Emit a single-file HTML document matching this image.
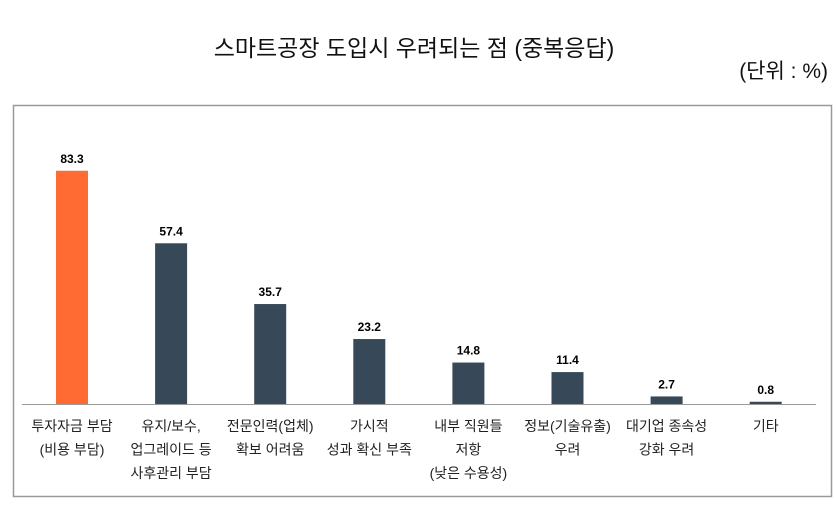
<!DOCTYPE html>
<html><head><meta charset="utf-8"><style>
body{margin:0;background:#fff;width:836px;height:502px;overflow:hidden;font-family:"Liberation Sans","Noto Sans CJK KR",sans-serif}
</style></head><body>
<svg width="836" height="502" style="font-family:'Liberation Sans','Noto Sans CJK KR',sans-serif">
<text x="414" y="56" text-anchor="middle" font-size="23" fill="#111">스마트공장  도입시  우려되는  점  (중복응답)</text>
<text x="828" y="78" text-anchor="end" font-size="21" fill="#111">(단위 : %)</text>
<rect x="13.5" y="105.5" width="818" height="391" fill="none" stroke="#999" stroke-width="1.5"/>
<line x1="22" y1="404.5" x2="816" y2="404.5" stroke="#999"/>
<g id="bars"></g>
</svg>
<script>
const categories=[["투자자금 부담","(비용 부담)"],["유지/보수,","업그레이드 등","사후관리 부담"],["전문인력(업체)","확보 어려움"],["가시적","성과 확신 부족"],["내부 직원들","저항","(낮은 수용성)"],["정보(기술유출)","우려"],["대기업 종속성","강화 우려"],["기타"]];
const values=[83.3,57.4,35.7,23.2,14.8,11.4,2.7,0.8];
const labels=["83.3","57.4","35.7","23.2","14.8","11.4","2.7","0.8"];
const NS="http://www.w3.org/2000/svg";
const g=document.getElementById('bars');
const base=404, scale=2.8, x0=72, step=99.1, bw=32;
function xs(i){return x0+step*i;}
function ys(v){return base-v*scale;}
values.forEach((v,i)=>{
  const cx=xs(i);
  const r=document.createElementNS(NS,'rect');
  
  
  r.setAttribute('x',cx-bw/2);r.setAttribute('y',ys(v));
  r.setAttribute('width',bw);r.setAttribute('height',base-ys(v));
  r.setAttribute('fill',i===0?'#ff6b33':'#374958');
  g.appendChild(r);
  const t=document.createElementNS(NS,'text');
  
  
  t.setAttribute('x',cx);t.setAttribute('y',ys(v)-8);
  t.setAttribute('text-anchor','middle');t.setAttribute('font-size','12');t.setAttribute('font-weight','bold');
  t.textContent=labels[i];g.appendChild(t);
  categories[i].forEach((line,j)=>{
    const c=document.createElementNS(NS,'text');
    
    
    c.setAttribute('x',cx);c.setAttribute('y',431+j*23.5);
    c.setAttribute('text-anchor','middle');c.setAttribute('font-size','14');c.setAttribute('fill','#222');
    c.textContent=line;g.appendChild(c);
  });
});
</script>
</body></html>
